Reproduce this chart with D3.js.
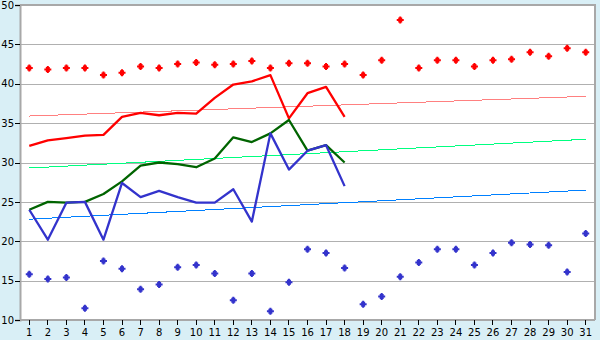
<!DOCTYPE html>
<html><head><meta charset="utf-8">
<script src="https://cdn.jsdelivr.net/npm/d3@7"></script>
<style>body{margin:0;background:#d9eff6;}svg{display:block;}</style>
</head><body><svg id="c" width="600" height="340"></svg>
<script>
const days = d3.range(1, 32).map(String);
const yTicks = [10, 15, 20, 25, 30, 35, 40, 45, 50];
const redDots = [42.0,41.8,42.0,42.0,41.1,41.4,42.2,42.0,42.5,42.7,42.4,42.5,42.9,42.0,42.6,42.6,42.2,42.5,41.1,43.0,48.1,42.0,43.0,43.0,42.2,43.0,43.1,44.0,43.5,44.5,44.0];
const blueDots = [15.8,15.2,15.4,11.5,17.5,16.5,13.9,14.5,16.7,17.0,15.9,12.5,15.9,11.1,14.8,19.0,18.5,16.6,12.0,13.0,15.5,17.3,19.0,19.0,17.0,18.5,19.8,19.6,19.5,16.1,21.0];
const redLine = [32.1,32.8,33.1,33.4,33.5,35.8,36.3,36.0,36.3,36.2,38.2,39.9,40.3,41.1,35.6,38.8,39.6,35.8];
const greenLine = [24.0,25.0,24.9,25.0,26.0,27.6,29.6,30.0,29.8,29.4,30.5,33.2,32.6,33.7,35.4,31.5,32.2,30.0];
const blueLine = [24.0,20.2,24.9,25.0,20.2,27.4,25.6,26.4,25.6,24.9,24.9,26.6,22.5,33.7,29.1,31.5,32.2,27.0];
const trendRed = [35.9, 38.4];
const trendGreen = [29.3, 32.95];
const trendBlue = [22.8, 26.5];

const svg = d3.select("#c");
const L = 20, R = 595, T = 5, B = 320;
const x = d3.scaleBand().domain(days).range([L, R]);
const cx = d => x(d) + x.bandwidth() / 2;
const y = d3.scaleLinear().domain([10, 50]).range([B, T]);
const FONT = "DejaVu Sans";
const FS = 10;

svg.append("rect").attr("x", L).attr("y", T).attr("width", R - L).attr("height", B - T).attr("fill", "#fff");

// grid
svg.append("g").selectAll("line").data(yTicks.slice(1)).join("line")
  .attr("x1", L).attr("x2", R).attr("y1", d => Math.round(y(d)) + 0.5).attr("y2", d => Math.round(y(d)) + 0.5)
  .attr("stroke", "#b0b0b0").attr("stroke-width", 1.5).attr("shape-rendering", "crispEdges");

// border right/top
svg.append("path").attr("d", `M${L},${T}H${R}V${B}`).attr("fill", "none").attr("stroke", "#a8a8a8").attr("stroke-width", 2).attr("shape-rendering", "crispEdges");

// axes
const yAxis = d3.axisLeft(y).tickValues(yTicks).tickSize(5).tickPadding(1);
const gy = svg.append("g").attr("transform", `translate(${L},0)`).call(yAxis);
gy.select(".domain").attr("stroke", "#a8a8a8").attr("stroke-width", 2);
gy.selectAll(".tick line").attr("stroke", "#000");
gy.selectAll("text").attr("font-family", FONT).attr("font-size", FS).attr("fill", "#000");

const xAxis = d3.axisBottom(x).tickSize(5).tickPadding(4);
const gx = svg.append("g").attr("transform", `translate(0,${B})`).call(xAxis);
gx.select(".domain").attr("stroke", "#a8a8a8").attr("stroke-width", 2).attr("d", `M${L},0H${R}`);
gx.selectAll(".tick line").attr("stroke", "#000");
gx.selectAll("text").attr("font-family", FONT).attr("font-size", FS).attr("fill", "#000");
svg.selectAll(".tick line").attr("shape-rendering", "crispEdges");

// trend lines
function trend(vals, color) {
  svg.append("line").attr("x1", cx(days[0])).attr("x2", cx(days[30]))
    .attr("y1", y(vals[0])).attr("y2", y(vals[1]))
    .attr("stroke", color).attr("stroke-width", 1).attr("shape-rendering", "crispEdges");
}
trend(trendRed, "#ff8080");
trend(trendGreen, "#00ff80");
trend(trendBlue, "#0080ff");

// lines
const line = d3.line().x((d, i) => cx(days[i])).y(d => y(d));
function drawLine(vals, color) {
  svg.append("path").datum(vals).attr("d", line).attr("fill", "none")
    .attr("stroke", color).attr("stroke-width", 2.3).attr("stroke-linejoin", "round");
}
drawLine(redLine, "#ff0000");
drawLine(greenLine, "#006400");
drawLine(blueLine, "#3333cc");

// markers
const mk = "M-1,-3.5H1V-2.5H2V-1H3.5V1H2V2.5H1V3.5H-1V2.5H-2V1H-3.5V-1H-2V-2.5H-1Z";
function dots(vals, color) {
  svg.append("g").selectAll("path").data(vals).join("path")
    .attr("transform", (d, i) => `translate(${cx(days[i])},${y(d)})`)
    .attr("d", mk).attr("fill", color);
}
dots(redDots, "#ff0000");
dots(blueDots, "#3333cc");
</script></body></html>
